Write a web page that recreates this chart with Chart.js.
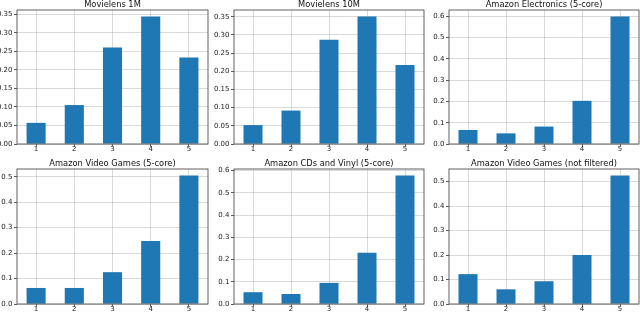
<!DOCTYPE html>
<html>
<head>
<meta charset="utf-8">
<script src="https://cdn.jsdelivr.net/npm/chart.js@4"></script>
<style>
  body { margin: 0; background: #fff; }
  #wrap { position: relative; width: 640px; height: 312px; overflow: hidden; }
  canvas { position: absolute; }
</style>
</head>
<body>
<div id="wrap"></div>
<script>
const ratings = ['1', '2', '3', '4', '5'];

const titles = [
    'Movielens 1M',
    'Movielens 10M',
    'Amazon Electronics (5-core)',
    'Amazon Video Games (5-core)',
    'Amazon CDs and Vinyl (5-core)',
    'Amazon Video Games (not filtered)'
];

const movielens1m = [0.057, 0.105, 0.260, 0.344, 0.233];
const movielens10m = [0.052, 0.092, 0.287, 0.351, 0.217];
const electronics = [0.066, 0.050, 0.082, 0.203, 0.600];
const videoGames5 = [0.063, 0.063, 0.125, 0.247, 0.505];
const cdsVinyl = [0.053, 0.045, 0.095, 0.230, 0.578];
const videoGamesAll = [0.122, 0.060, 0.093, 0.200, 0.525];

const seriesList = [movielens1m, movielens10m, electronics, videoGames5, cdsVinyl, videoGamesAll];
const tickSteps = [0.05, 0.05, 0.1, 0.1, 0.1, 0.1];
const tickDecimals = [2, 2, 1, 1, 1, 1];

// plot area of each panel in page pixels: left, right, top, bottom
const areas = [
    [17, 208, 10, 144],
    [233.5, 423.5, 10, 144],
    [449, 639, 10, 144],
    [17, 208, 168.5, 303],
    [233.5, 423.5, 168.5, 303],
    [449, 639, 168.5, 303]
];

const Y_W = 24, X_H = 10, TITLE_H = 10;

// frame + title drawn by hand, like matplotlib spines
const framePlugin = {
    id: 'frame',
    afterDraw(chart) {
        const a = chart.chartArea, ctx = chart.ctx;
        ctx.save();
        ctx.strokeStyle = '#3a3a3a';
        ctx.lineWidth = 0.8;
        ctx.strokeRect(a.left, a.top, a.right - a.left, a.bottom - a.top);
        ctx.fillStyle = '#111';
        ctx.font = '8.3px "DejaVu Sans"';
        ctx.textAlign = 'center';
        ctx.textBaseline = 'bottom';
        ctx.fillText(chart.options.panelTitle, (a.left + a.right) / 2, a.top - 1);
        ctx.restore();
    }
};

const wrap = document.getElementById('wrap');

seriesList.forEach((values, i) => {
    const [L, R, T, B] = areas[i];
    const cv = document.createElement('canvas');
    const w = Math.round(R - L + Y_W + 1);
    const h = Math.round(B - T + TITLE_H + X_H);
    cv.width = w; cv.height = h;
    cv.style.left = (L - Y_W) + 'px';
    cv.style.top = (T - TITLE_H) + 'px';
    cv.style.width = w + 'px';
    cv.style.height = h + 'px';
    wrap.appendChild(cv);

    const ymax = Math.max(...values) * 1.05;

    new Chart(cv.getContext('2d'), {
        type: 'bar',
        data: {
            labels: ratings,
            datasets: [{
                data: values,
                backgroundColor: '#1f77b4',
                borderWidth: 0,
                barPercentage: 0.5,
                categoryPercentage: 1.0
            }]
        },
        options: {
            panelTitle: titles[i],
            responsive: false,
            animation: false,
            layout: { padding: { top: TITLE_H, right: 1, left: 0, bottom: 0 } },
            plugins: { legend: { display: false }, tooltip: { enabled: false }, title: { display: false } },
            scales: {
                x: {
                    z: 1,
                    offset: true,
                    afterFit(s) { s.height = X_H; },
                    grid: { offset: false, color: 'rgba(170,170,170,0.55)', lineWidth: 0.8, tickColor: '#333', tickLength: 2.5 },
                    border: { display: false },
                    ticks: { color: '#222', font: { family: 'DejaVu Sans', size: 7, lineHeight: 1 }, padding: -0.5, maxRotation: 0 }
                },
                y: {
                    z: 1,
                    min: 0,
                    max: ymax,
                    afterFit(s) { s.width = Y_W; },
                    grid: { color: 'rgba(170,170,170,0.55)', lineWidth: 0.8, tickColor: '#333', tickLength: 3 },
                    border: { display: false },
                    ticks: {
                        stepSize: tickSteps[i],
                        includeBounds: false,
                        color: '#222',
                        padding: 1.5,
                        font: { family: 'DejaVu Sans', size: 7 },
                        callback: v => Number(v).toFixed(tickDecimals[i])
                    }
                }
            }
        },
        plugins: [framePlugin]
    });
});
</script>
</body>
</html>
